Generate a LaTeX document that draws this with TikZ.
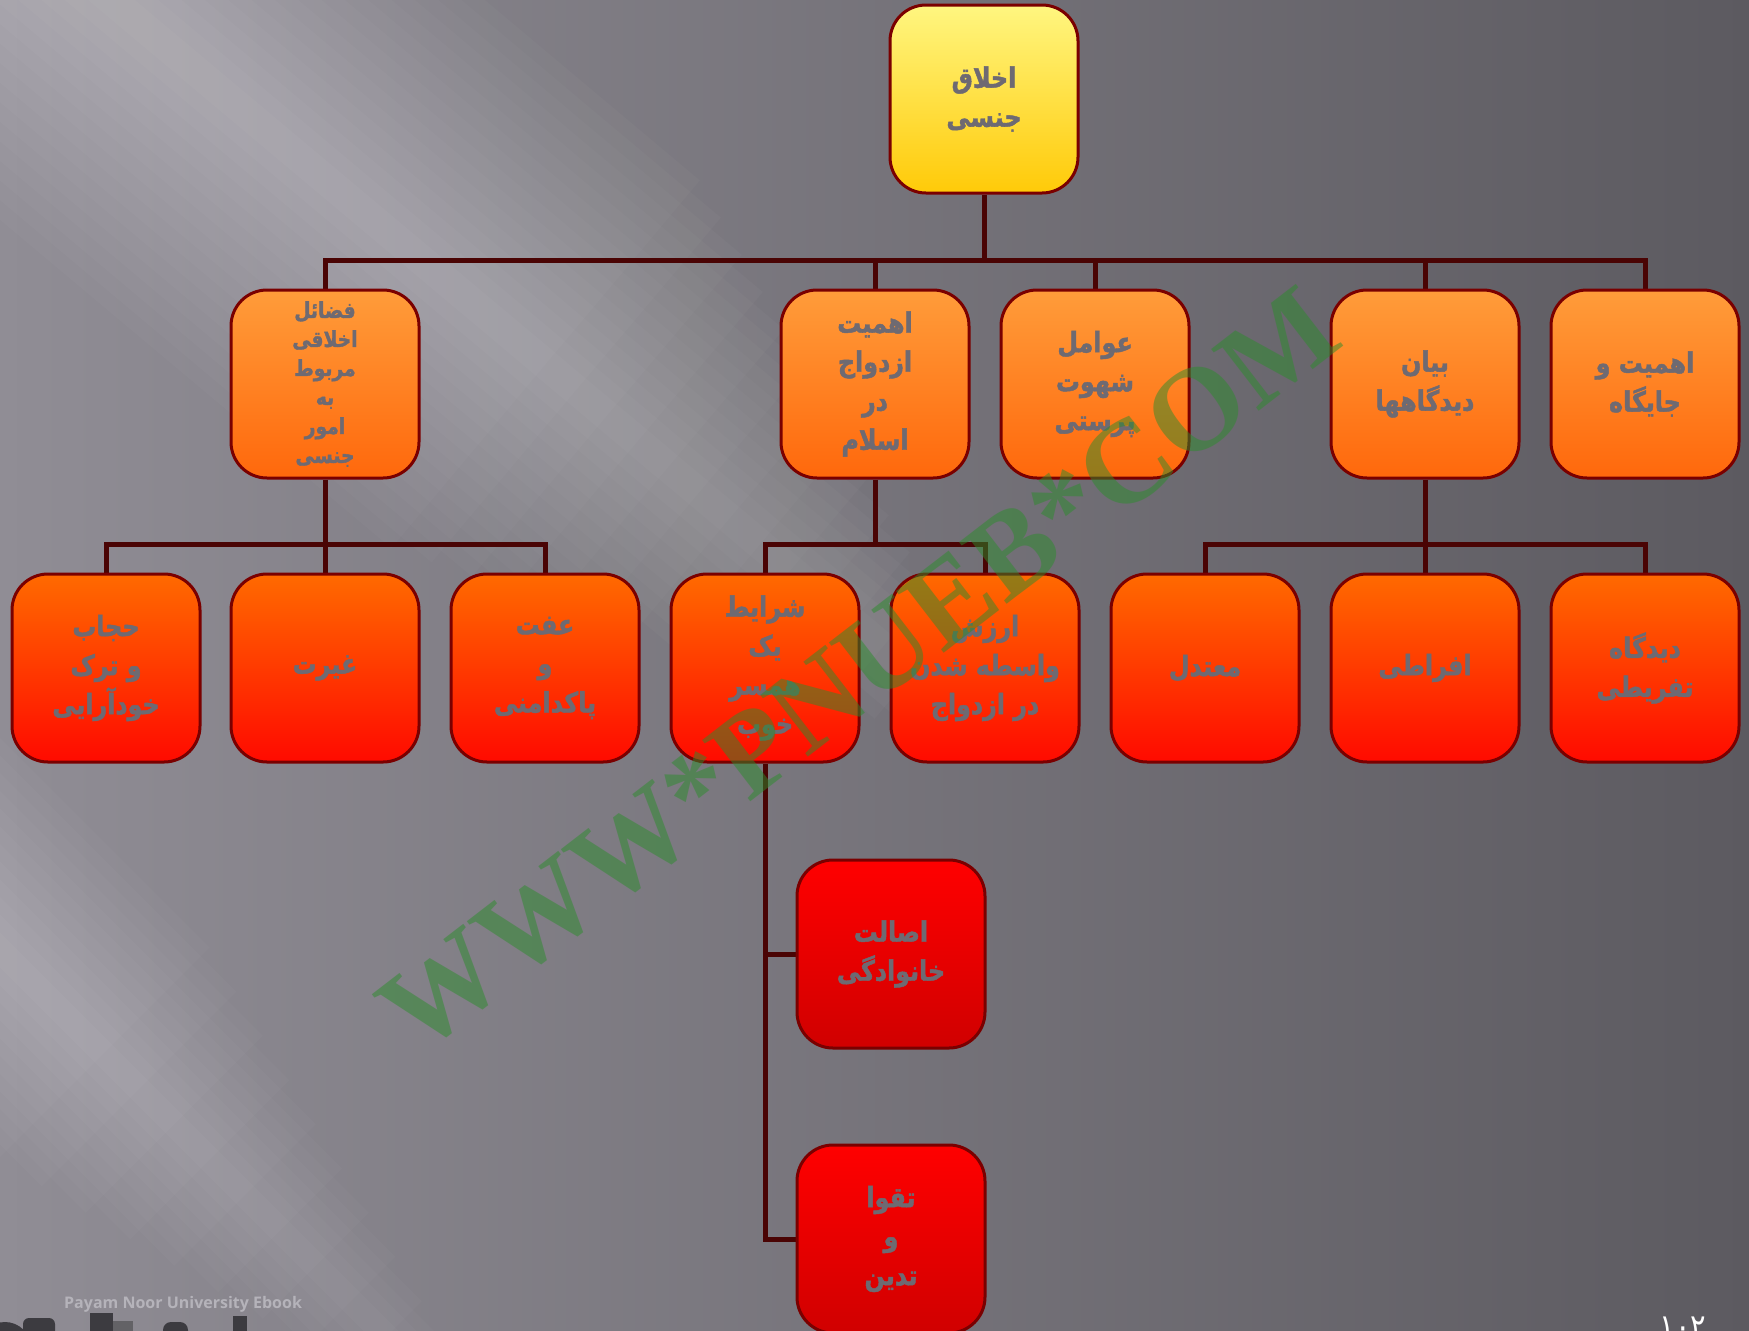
\documentclass[tikz,border=0pt]{standalone}
\usepackage{fontspec}
\newfontfamily\arabicfont[Script=Arabic, FakeStretch=0.85, BoldFont={DejaVu Sans Bold}, BoldFeatures={FakeBold=1.6}]{DejaVu Sans}
\newfontfamily\wmfont{Liberation Serif}
\newfontfamily\latinsans{Open Sans}
\TeXXeTstate=1
\newcommand{\fa}[1]{\beginR#1\endR}
\definecolor{bgL}{HTML}{908D95}
\definecolor{bgR}{HTML}{5C5A60}
\definecolor{boxedge}{HTML}{7A0000}
\definecolor{connc}{HTML}{4A0404}
\definecolor{txt}{HTML}{6E6A72}
\definecolor{rootT}{HTML}{FFF680}
\definecolor{rootB}{HTML}{FFCA08}
\definecolor{oneT}{HTML}{FF9C3A}
\definecolor{oneB}{HTML}{FF680C}
\definecolor{twoT}{HTML}{FF6A00}
\definecolor{twoB}{HTML}{FF0A00}
\definecolor{thrT}{HTML}{FF0000}
\definecolor{thrB}{HTML}{D00000}
\definecolor{wm}{HTML}{2C8C2C}
\definecolor{pnu}{HTML}{B5B3BA}
\definecolor{logo}{HTML}{3C3B40}
\pgfdeclarelayer{bg}
\pgfdeclarelayer{conn}
\pgfdeclarelayer{fg}
\pgfsetlayers{bg,conn,main,fg}
\tikzset{
  box/.style={draw=boxedge, line width=3pt, rounded corners=36pt,
    minimum width=188pt, minimum height=188pt, inner sep=0pt, text=txt,
    font=\arabicfont\bfseries\fontsize{28}{39}\selectfont, align=center},
  lvlroot/.style={box, top color=rootT, bottom color=rootB},
  lvlone/.style={box, top color=oneT, bottom color=oneB},
  lvltwo/.style={box, top color=twoT, bottom color=twoB},
  lvlthree/.style={box, top color=thrT, bottom color=thrB},
  conn/.style={draw=connc, line width=5pt},
  band/.style={white, opacity=0.024}
}
\begin{document}
\begin{tikzpicture}[x=1pt, y=-1pt]
\useasboundingbox (0,0) rectangle (1749,1331);
% background
\begin{pgfonlayer}{bg}
\shade[left color=bgL, right color=bgR] (0,0) rectangle (1749,1331);
\begin{scope}[shift={(40,-60)}, rotate=-40]
  \foreach \i in {1,...,16}
    \fill[band] (-100,-15*\i) rectangle (1300-40*\i,15*\i);
\end{scope}
\begin{scope}[shift={(-250,700)}, rotate=-45]
  \foreach \i in {1,...,12}
    \fill[band] (-50,-12.5*\i) rectangle (1100-50*\i,12.5*\i);
\end{scope}
% logo fragments
\fill[logo] (5,1348) circle (26);
\fill[logo, rounded corners=6pt] (23,1318) rectangle (55,1345);
\fill[logo] (90,1313) rectangle (113,1340);
\fill[logo!80!white] (113,1321) rectangle (133,1340);
\fill[logo, rounded corners=8pt] (163,1322) rectangle (188,1345);
\fill[logo] (233,1316) rectangle (247,1340);
\end{pgfonlayer}

% nodes
\node[lvlroot] (root) at (984,99) {\fa{اخلاق}\\\fa{جنسی}};

\node[lvlone, font=\arabicfont\bfseries\fontsize{22}{29}\selectfont] (a1) at (325,384)
  {\fa{فضائل}\\\fa{اخلاقی}\\\fa{مربوط}\\\fa{به}\\\fa{امور}\\\fa{جنسی}};
\node[lvlone] (a2) at (875,384) {\fa{اهمیت}\\\fa{ازدواج}\\\fa{در}\\\fa{اسلام}};
\node[lvlone] (a3) at (1095,384) {\fa{عوامل}\\\fa{شهوت}\\\fa{پرستی}};
\node[lvlone] (a4) at (1425,384) {\fa{بیان}\\\fa{دیدگاهها}};
\node[lvlone] (a5) at (1645,384) {\fa{اهمیت و}\\\fa{جایگاه}};

\node[lvltwo] (b1) at (106,668) {\fa{حجاب}\\\fa{و ترک}\\\fa{خودآرایی}};
\node[lvltwo] (b2) at (325,668) {\fa{غیرت}};
\node[lvltwo] (b3) at (545,668) {\fa{عفت}\\\fa{و}\\\fa{پاکدامنی}};
\node[lvltwo] (b4) at (765,668) {\fa{شرایط}\\\fa{یک}\\\fa{همسر}\\\fa{خوب}};
\node[lvltwo] (b5) at (985,668) {\fa{ارزش}\\\fa{واسطه شدن}\\\fa{در ازدواج}};
\node[lvltwo] (b6) at (1205,668) {\fa{معتدل}};
\node[lvltwo] (b7) at (1425,668) {\fa{افراطی}};
\node[lvltwo] (b8) at (1645,668) {\fa{دیدگاه}\\\fa{تفریطی}};

\node[lvlthree] (c1) at (891,954) {\fa{اصالت}\\\fa{خانوادگی}};
\node[lvlthree] (c2) at (891,1239) {\fa{تقوا}\\\fa{و}\\\fa{تدین}};

% connectors
\begin{pgfonlayer}{conn}
\draw[conn] (root.south) -- (root.south |- 0,262);
\draw[conn] (a1.north) -- ++(0,-28) -| (a5.north);
\draw[conn] (a2.north) -- ++(0,-28);
\draw[conn] (a3.north) -- (a3.north |- 0,262);
\draw[conn] (a4.north) -- ++(0,-28);
\draw[conn] (a1.south) -- (b2.north);
\draw[conn] (b1.north) -- ++(0,-28) -| (b3.north);
\draw[conn] (a2.south) -- (a2.south |- 0,546);
\draw[conn] (b4.north) -- ++(0,-28) -| (b5.north);
\draw[conn] (a4.south) -- (b7.north);
\draw[conn] (b6.north) -- ++(0,-28) -| (b8.north);
\draw[conn] (b4.south) -- (b4.south |- c2.west) -- (c2.west);
\draw[conn] (b4.south |- c1.west) -- (c1.west);
\end{pgfonlayer}

% texts and watermark
\node[anchor=base west, inner sep=0pt, text=pnu, font=\latinsans\bfseries\fontsize{16}{16}\selectfont] (pnu) at (64,1308) {Payam Noor University Ebook};
\node[anchor=base, inner sep=0pt, text=white, font=\arabicfont\fontsize{34}{34}\selectfont] (pg) at (1683,1338) {۱۰۲};
\begin{pgfonlayer}{fg}
\node[rotate=37.6, text=wm, opacity=0.5, inner sep=0pt, font=\wmfont\bfseries\fontsize{119}{119}\selectfont] (wmark) at (859,670) {WWW*PNUEB*COM};
\end{pgfonlayer}
\end{tikzpicture}
\end{document}
